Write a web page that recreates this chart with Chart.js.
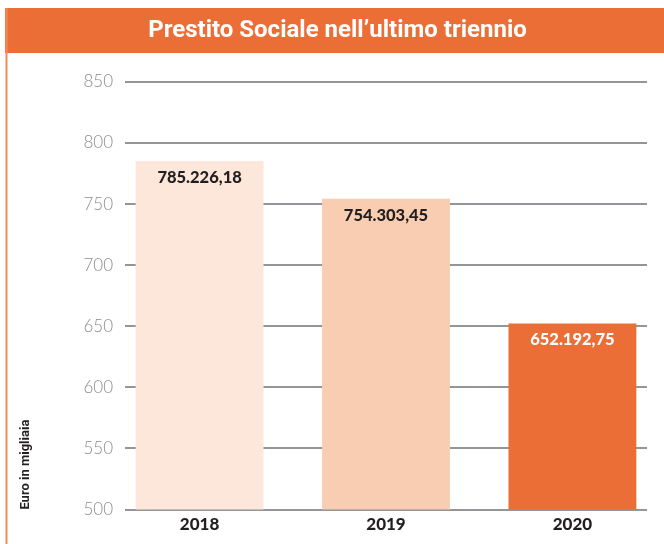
<!DOCTYPE html>
<html>
<head>
<meta charset="utf-8">
<script src="https://cdn.jsdelivr.net/npm/chart.js@4/dist/chart.umd.min.js"></script>
<style>
  html, body { margin: 0; padding: 0; background: #ffffff; }
  #wrap { width: 664px; height: 544px; position: relative; }
</style>
</head>
<body>
<div id="wrap"><canvas id="c" width="664" height="544"></canvas></div>
<script>
// ---- data (values in thousands of euro) ----
const chartTitle = 'Prestito Sociale nell\u2019ultimo triennio';
const axisTitle = 'Euro in migliaia';
const categories = ['2018', '2019', '2020'];
const values = [785.22618, 754.30345, 652.19275];
const yTicks = [500, 550, 600, 650, 700, 750, 800, 850];

// ---- styles ----
const ORANGE = '#ec6e37';
const barColors = ['#fde6da', '#f9cdb1', ORANGE];
const labelColors = ['#231f20', '#231f20', '#ffffff'];

function fmtIt(v) {
  // value in thousands -> full euro amount, Italian formatting
  const cents = Math.round(v * 100000);
  const intPart = Math.floor(cents / 100);
  const dec = String(cents % 100).padStart(2, '0');
  const s = String(intPart).replace(/\B(?=(\d{3})+(?!\d))/g, '.');
  return s + ',' + dec;
}

const decor = {
  id: 'decor',
  beforeDraw(chart) {
    const ctx = chart.ctx;
    ctx.save();
    ctx.fillStyle = '#ffffff';
    ctx.fillRect(0, 0, chart.width, chart.height);
    ctx.fillStyle = ORANGE;
    ctx.fillRect(5, 8, chart.width - 5, 45);
    ctx.fillStyle = '#f08c57';
    ctx.fillRect(5.5, 8, 2, chart.height - 8);
    ctx.restore();
  }
};

const valueLabels = {
  id: 'valueLabels',
  afterDatasetsDraw(chart) {
    const ctx = chart.ctx;
    const meta = chart.getDatasetMeta(0);
    ctx.save();
    ctx.font = '900 16.5px Lato, "Open Sans", sans-serif';
    ctx.textAlign = 'center';
    ctx.textBaseline = 'middle';
    meta.data.forEach((bar, i) => {
      ctx.fillStyle = labelColors[i];
      ctx.fillText(fmtIt(values[i]), bar.x, bar.y + 16.5);
    });
    ctx.restore();
  }
};

new Chart(document.getElementById('c'), {
  type: 'bar',
  data: {
    datasets: [{
      data: categories.map((c, i) => ({ x: i, y: values[i] })),
      backgroundColor: barColors,
      borderWidth: 0,
      barPercentage: 0.686,
      categoryPercentage: 1
    }]
  },
  options: {
    responsive: false,
    animation: false,
    layout: { padding: { top: 8, left: 11, right: 0, bottom: 4 } },
    plugins: {
      legend: { display: false },
      tooltip: { enabled: false },
      title: {
        display: true,
        text: chartTitle,
        color: '#ffffff',
        font: { family: 'Roboto, sans-serif', size: 24, weight: 'bold', lineHeight: 1.2 },
        padding: { top: 9, bottom: 36 }
      }
    },
    scales: {
      x: {
        type: 'linear',
        offset: false,
        min: -0.4,
        max: 2.4,
        afterBuildTicks: s => { s.ticks = categories.map((c, i) => ({ value: i })); },
        grid: { display: false, drawTicks: false, offset: false },
        border: { display: false },
        ticks: {
          callback: v => categories[v],
          color: '#231f20',
          font: { family: 'Lato, "Open Sans", sans-serif', size: 17, weight: 900 },
          padding: 5,
          maxRotation: 0,
          autoSkip: false
        }
      },
      y: {
        position: 'left',
        min: yTicks[0],
        max: yTicks[yTicks.length - 1],
        afterBuildTicks: s => { s.ticks = yTicks.map(v => ({ value: v })); },
        afterFit: s => { s.width = 114; },
        grid: { color: '#939598', lineWidth: 2, drawTicks: false },
        border: { display: false },
        ticks: {
          color: '#8a8c8f',
          font: { family: 'Lato, "Open Sans", sans-serif', size: 17, weight: 300 },
          padding: 12
        },
        title: {
          display: true,
          text: axisTitle,
          align: 'start',
          color: '#231f20',
          font: { family: 'Roboto, sans-serif', size: 13, weight: 'bold' },
          padding: { top: 6.5, bottom: 0 }
        }
      },
      yRight: {
        position: 'right',
        display: true,
        grid: { display: false, drawTicks: false },
        border: { display: false },
        ticks: { display: false },
        afterFit: s => { s.width = 17; }
      }
    }
  },
  plugins: [decor, valueLabels]
});
</script>
</body>
</html>
